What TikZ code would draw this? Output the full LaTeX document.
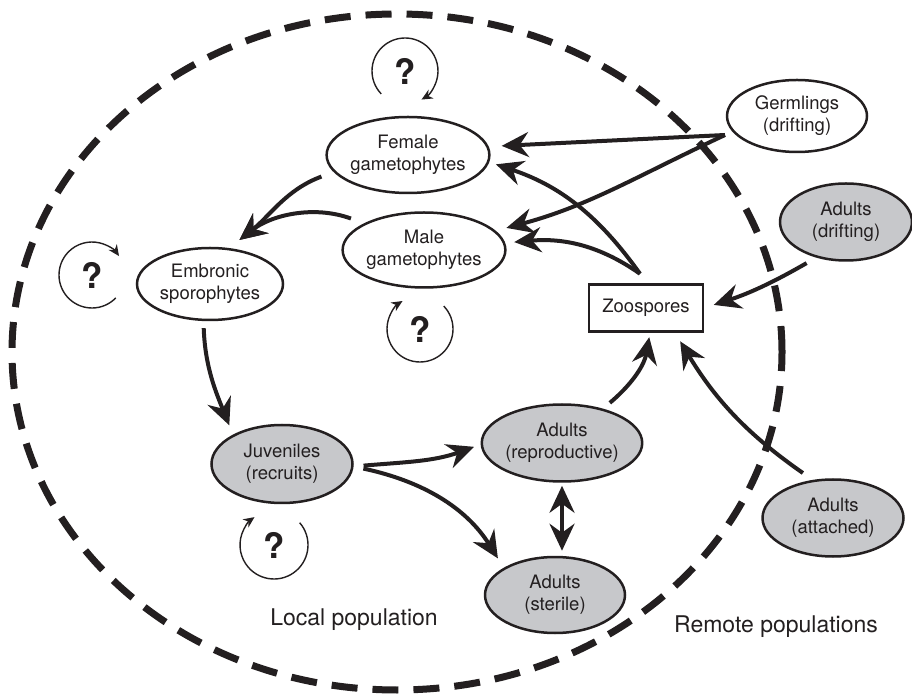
\documentclass[tikz,border=0pt]{standalone}
\usepackage{fontspec}
\setmainfont{TeX Gyre Heros}
\usetikzlibrary{arrows.meta,shapes.geometric,calc}
\definecolor{ink}{RGB}{35,31,32}
\definecolor{shade}{RGB}{199,200,203}
\begin{document}
\begin{tikzpicture}[x=1pt,y=1pt,
  stage/.style={ellipse, draw=ink, line width=2.5pt, inner sep=0pt, align=center,
    text=ink, font=\fontsize{18.5}{22}\selectfont},
  grey/.style={stage, fill=shade},
  boxnode/.style={rectangle, draw=ink, line width=2.5pt, inner sep=0pt, text=ink,
    font=\fontsize{18.5}{22}\selectfont},
  lab/.style={text=ink, inner sep=0pt, font=\fontsize{23}{27}\selectfont},
  qm/.style={text=ink, inner sep=0pt, font=\fontsize{35}{40}\selectfont\bfseries},
  flow/.style={draw=ink, line width=4pt, -{Stealth[length=27pt,width=25pt,inset=9pt]}},
  dflow/.style={draw=ink, line width=4pt, {Stealth[length=27pt,width=25pt,inset=9pt]}-{Stealth[length=27pt,width=25pt,inset=9pt]}},
  loopline/.style={draw=ink, line width=1.4pt, -{Stealth[length=11pt,width=10pt,inset=3.5pt]}},
  popline/.style={draw=ink, line width=7pt, dash pattern=on 26pt off 15pt}
]
\useasboundingbox (0,0) rectangle (912,696);

% local population boundary
\draw[popline] (397,344) ellipse[x radius=385, y radius=338];

% nodes
\node[stage, minimum width=137pt, minimum height=76pt] (fem) at (408,541) {Female\\gametophytes};
\node[stage, minimum width=139pt, minimum height=75pt] (male) at (424,446) {Male\\gametophytes};
\node[stage, minimum width=146pt, minimum height=72pt] (emb) at (210,412) {Embronic\\sporophytes};
\node[boxnode, minimum width=114pt, minimum height=47pt] (zoo) at (646,388) {Zoospores};
\node[stage, minimum width=140pt, minimum height=72pt] (germ) at (797,580) {Germlings\\(drifting)};
\node[grey, minimum width=132pt, minimum height=77pt] (adrift) at (846,474) {Adults\\(drifting)};
\node[grey, minimum width=141pt, minimum height=78pt] (juv) at (282,232) {Juveniles\\(recruits)};
\node[grey, minimum width=141pt, minimum height=77pt] (arep) at (562,253) {Adults\\(reproductive)};
\node[grey, minimum width=140pt, minimum height=76pt] (aster) at (555,101) {Adults\\(sterile)};
\node[grey, minimum width=141pt, minimum height=77pt] (aatt) at (833,178) {Adults\\(attached)};

\node[lab] (local) at (354,76) {Local population};
\node[lab] (remote) at (776,69) {Remote populations};

% question-mark loops
\node[qm] (q1) at (405,625) {?};
\node[qm] (q2) at (92,421) {?};
\node[qm] (q3) at (420,367) {?};
\node[qm] (q4) at (274,151) {?};
\draw[loopline] ($(q1)+(224:33)$) arc[start angle=224, end angle=-60, radius=33];
\draw[loopline] ($(q2)+(-44:33)$) arc[start angle=-44, end angle=-325, radius=33];
\draw[loopline] ($(q3)+(44:33)$) arc[start angle=44, end angle=-238, radius=33];
\draw[loopline] ($(q4)+(41:34)$) arc[start angle=41, end angle=-235, radius=34];

% start points of shared connectors
\coordinate (gs) at ($(germ.center)+(-72,-19)$);
\coordinate (zs) at ($(zoo.north)+(-6,9.5)$);

% connectors
\draw[flow, shorten >=13pt] (gs) -- (fem.6);
\draw[flow, shorten >=11pt] (gs) to[out=205, in=15] (male.15);
\draw[flow, shorten >=7pt] (zs) to[bend right=18] (fem.-5);
\draw[flow, shorten >=9pt] (zs) to[out=145, in=5] (male.5);
\draw[flow, shorten <=13pt, shorten >=13pt] (fem.193) to[out=200, in=38] (emb.62);
\draw[flow, shorten <=14pt, shorten >=13pt] (male.156) to[out=160, in=38] (emb.62);
\draw[flow, shorten <=7pt, shorten >=10pt] (emb.260) to[out=272, in=112] (juv.149);
\draw[flow, shorten <=10pt, shorten >=7pt] (juv.-2) to[out=5, in=200] (arep.181);
\draw[flow, shorten <=10pt, shorten >=11pt] (juv.-2) to[out=-12, in=122] (aster.152);
\draw[dflow, shorten <=3pt, shorten >=5pt] (arep.south) -- (arep.south |- aster.north);
\draw[flow, shorten <=9pt, shorten >=4.5pt] (arep.40) to[out=40, in=260] ([xshift=4pt]zoo.south);
\draw[flow, shorten <=12pt, shorten >=10pt] (aatt.118) to[bend left=12] ([xshift=29pt]zoo.south);
\draw[flow, shorten <=11pt, shorten >=10pt] (adrift.230) to[out=210, in=18] (zoo.east);
\end{tikzpicture}
\end{document}
